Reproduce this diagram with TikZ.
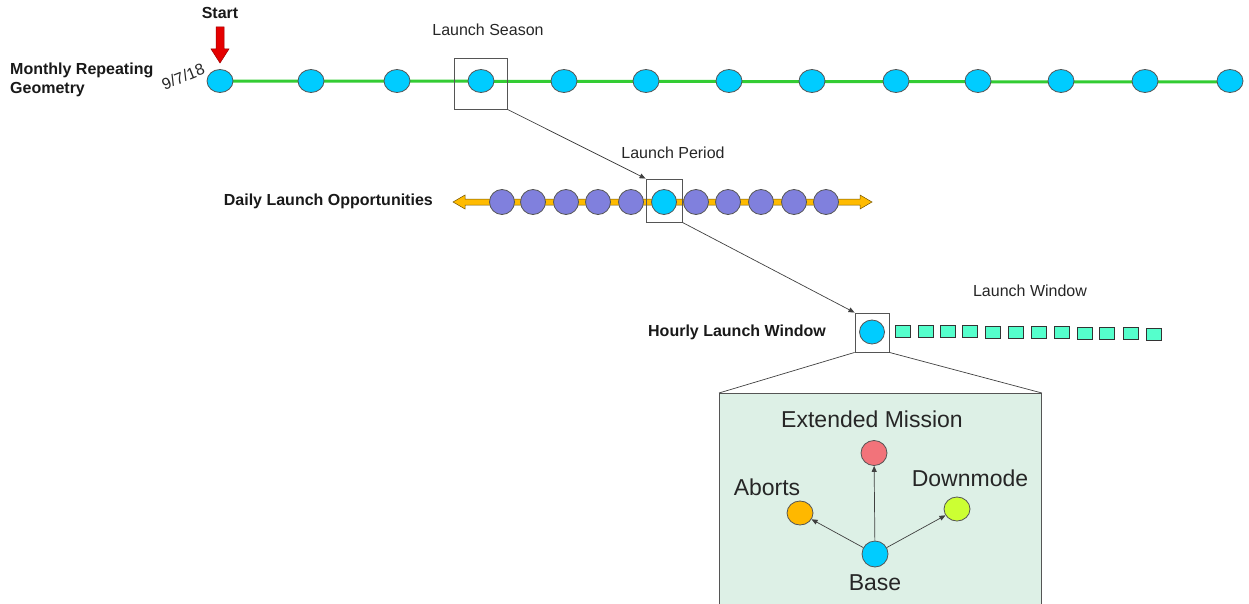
\documentclass[tikz,border=0pt]{standalone}
\usepackage{fontspec}
\setmainfont{Liberation Sans}
\usetikzlibrary{arrows.meta,shapes.geometric}
\definecolor{cyanc}{HTML}{00CCFF}
\definecolor{greenl}{HTML}{33CC33}
\definecolor{orangel}{HTML}{FFBB00}
\definecolor{purplec}{HTML}{8080DD}
\definecolor{aquasq}{HTML}{55FFCC}
\definecolor{panel}{HTML}{DDF0E6}
\definecolor{redc}{HTML}{F2737A}
\definecolor{orangec}{HTML}{FFB800}
\definecolor{limec}{HTML}{CCFF33}
\definecolor{edgec}{HTML}{555555}
\begin{document}
\begin{tikzpicture}[x=1pt,y=-1pt,
  dot/.style={ellipse,draw=edgec,line width=0.8pt,inner sep=0pt,minimum width=26pt,minimum height=23pt},
  pdot/.style={circle,draw=edgec,line width=0.8pt,inner sep=0pt,minimum size=25pt,fill=purplec},
  sq/.style={rectangle,draw=black!80,line width=0.7pt,inner sep=0pt,minimum width=15pt,minimum height=12pt,fill=aquasq},
  frame/.style={draw=edgec,line width=0.9pt},
  conn/.style={draw=black!75,line width=0.7pt},
  lbl/.style={font=\fontsize{16}{19}\selectfont,text=black!85},
  blbl/.style={font=\fontsize{16}{19}\selectfont\bfseries,text=black!90},
  big/.style={font=\fontsize{23}{27}\selectfont,text=black!85},
  tip/.style={-{Triangle[length=6pt,width=5pt]}}]
\useasboundingbox (0,0) rectangle (1249,604);
% top timeline
\coordinate (tl0) at (220,81);
\coordinate (tl1) at (1230,82);
\draw[greenl,line width=3pt] (tl0) -- (tl1);
\foreach \i/\x in {0/220,1/311,2/397,3/481,4/564,5/646,6/729,7/812,8/896,9/978,10/1061,11/1145,12/1230}{
  \node[dot,fill=cyanc] (m\i) at (\x,81) {};
}
\node[frame,draw,minimum width=53pt,minimum height=51pt,inner sep=0pt] (box1) at (480.5,83.5) {};
\node[blbl] (start) at (220,13) {Start};
\coordinate (arS) at (220,27);
\draw[draw=red!60!black,fill=red!90!black,line width=0.5pt]
  (216,27) -- (224,27) -- (224,49) -- (229,49) -- (220,63) -- (211,49) -- (216,49) -- cycle;
\node[blbl,align=left,anchor=west,inner sep=0pt] (monthly) at (10,80) {Monthly Repeating\\Geometry};
\node[lbl,rotate=22,anchor=east,inner sep=0pt] (date) at (204,68) {9/7/18};
\node[lbl] (season) at (488,30) {Launch Season};
% daily line
\coordinate (dl0) at (453,202);
\coordinate (dl1) at (872,202);
\draw[draw=black!55!orangel,fill=orangel,line width=0.5pt]
  (453,202) -- (465,195) -- (465,199) -- (860,199) -- (860,195) -- (872,202) -- (860,209) -- (860,205) -- (465,205) -- (465,209) -- cycle;
\foreach \i/\x in {0/502,1/533,2/566,3/598,4/631,6/696,7/728,8/761,9/794,10/826}{
  \node[pdot] (d\i) at (\x,202) {};
}
\node[circle,draw=edgec,line width=0.8pt,inner sep=0pt,minimum size=25pt,fill=cyanc] (d5) at (664,202) {};
\node[frame,draw,minimum width=36pt,minimum height=43pt,inner sep=0pt] (box2) at (664,200.5) {};
\node[lbl] (period) at (673,153) {Launch Period};
\node[blbl,anchor=east,inner sep=0pt] (daily) at (433,201) {Daily Launch Opportunities};
\draw[conn,tip] (box1.south east) -- (box2.north west);
% hourly
\node[dot,fill=cyanc,minimum width=25pt,minimum height=24pt] (h0) at (872,332) {};
\node[frame,draw,minimum width=34pt,minimum height=39pt,inner sep=0pt] (box3) at (872,332.5) {};
\draw[conn,tip] (box2.south east) -- (box3.north west);
\node[blbl,anchor=east,inner sep=0pt] (hourly) at (826,332) {Hourly Launch Window};
\node[lbl] (window) at (1030,291) {Launch Window};
\foreach \i/\x/\y in {1/903/331,2/926/331,3/948/331,4/970/331,5/993/332,6/1016/332,7/1039/332,8/1062/332,9/1085/333,10/1107/333,11/1131/333,12/1154/334}{
  \node[sq] (s\i) at (\x,\y) {};
}
% panel
\node[draw=edgec,line width=0.9pt,fill=panel,minimum width=322pt,minimum height=213pt,inner sep=0pt,anchor=north west] (panel) at (719,393) {};
\draw[conn] (box3.south west) -- (panel.north west);
\draw[conn] (box3.south east) -- (panel.north east);
\node[dot,fill=redc,minimum width=26pt,minimum height=25pt] (ext) at (874,453) {};
\node[dot,fill=orangec,minimum width=26pt,minimum height=24pt] (abort) at (800,513) {};
\node[dot,fill=limec,minimum width=26pt,minimum height=24pt] (down) at (957,509) {};
\node[dot,fill=cyanc,minimum width=26pt,minimum height=26pt] (base) at (875,554) {};
\node[big] (extl) at (872,419) {Extended Mission};
\node[big] (abl) at (767,487) {Aborts};
\node[big] (dnl) at (970,478) {Downmode};
\node[big] (basel) at (875,583) {Base};
\draw[conn,tip] (base) -- (ext);
\draw[conn,tip] (base) -- (abort);
\draw[conn,tip] (base) -- (down);
\end{tikzpicture}
\end{document}
